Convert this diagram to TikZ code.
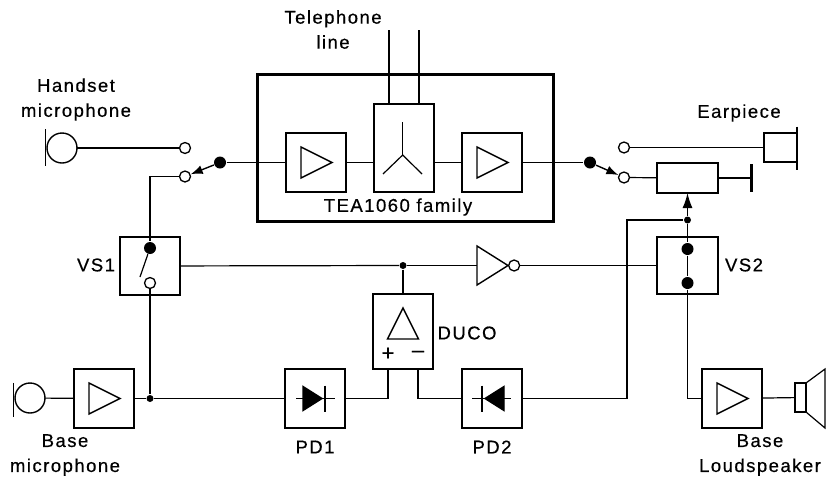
\documentclass[tikz,border=0pt]{standalone}
\usepackage{fontspec}
\setmainfont{Liberation Sans}[LetterSpace=8,FakeBold=0.5]
\usetikzlibrary{shapes,arrows.meta,positioning}

\begin{document}
\begin{tikzpicture}[
    x=1pt, y=-1pt,
    line width=1.2pt,
    blockbox/.style={rectangle, draw, line width=1.4pt, outer sep=0pt, minimum width=60pt, minimum height=59pt},
    amptri/.style={isosceles triangle, isosceles triangle stretches, draw, line width=1.4pt, inner sep=0pt, outer sep=0pt, minimum height=31pt, minimum width=31pt},
    diodetri/.style={amptri, fill=black, minimum height=19pt, minimum width=24pt},
    terminal/.style={circle, draw, line width=1.3pt, fill=white, inner sep=0pt, minimum size=11pt},
    bigdot/.style={circle, fill=black, inner sep=0pt, minimum size=12pt},
    smalldot/.style={circle, fill=black, inner sep=0pt, minimum size=7pt},
    micbody/.style={circle, draw, line width=1.4pt, inner sep=0pt, outer sep=0pt, minimum size=30pt},
    plate/.style={line width=2.6pt},
    swarrow/.style={-{Latex[length=12pt,width=9pt]}, line width=1.4pt},
    wiperarrow/.style={-{Latex[length=15pt,width=10pt]}, line width=1.4pt},
    caption/.style={font=\fontsize{18.5}{25}\selectfont, align=center, inner sep=0pt}
]
\useasboundingbox (0,0) rectangle (826,477);

\node[rectangle, draw, line width=3pt, minimum width=296pt, minimum height=147pt] (TEA) at (405,147.5) {};
\node[blockbox] (ampHS) at (316,162.5) {};
\node[blockbox, minimum height=88pt, anchor=south west] (HYB) at (374,192) {};
\node[blockbox] (ampEP) [right=116pt of ampHS] {};
\node[caption] (TEAtext) at (398,207) {TEA1060 family};

\node[blockbox] (ampBM) at (104,398.5) {};
\node[blockbox] (PD1) [right=151pt of ampBM] {};
\node[blockbox] (PD2) [right=117pt of PD1] {};
\node[blockbox, minimum height=75pt] (DUCO) [above right=0pt and 28pt of PD1.north east] {};
\node[blockbox] (ampBL) at (732,398.5) {};
\node[blockbox, minimum height=58pt] (VS1) at (150,266) {};
\node[blockbox, minimum width=61pt, minimum height=57pt] (VS2) at (687.5,265.5) {};
\node[blockbox, minimum width=61pt, minimum height=30pt] (RV) at (687.5,178) {};
\node[blockbox, minimum width=33pt, minimum height=29pt] (EP) at (780.5,147.5) {};
\node[blockbox, minimum width=11pt, minimum height=29pt] (LSP) at (800.5,397.5) {};

\foreach \n in {ampHS,ampEP,ampBM,ampBL}
    \node[amptri, anchor=lower side] (\n tri) at ([xshift=-15pt]\n.center) {};
\node[amptri, anchor=lower side, shape border rotate=90] (DUCOtri) at ([yshift=-7.5pt]DUCO.center) {};
\node[amptri, anchor=apex, minimum height=31pt, minimum width=39pt] (INV) at (508,265.5) {};
\node[terminal, right=0pt of INV.apex] (INVout) {};

\node[micbody] (HSmic) at (62,148) {};
\node[micbody] (BMmic) at (30,398) {};
\node[terminal] (HSa) at (185,148) {};
\node[terminal] (HSb) at (185,176.5) {};
\node[bigdot] (SWL) at (220,162.5) {};
\node[terminal] (EPa) at (624,147.5) {};
\node[terminal] (EPb) at (624,177.5) {};
\node[bigdot] (SWR) at (590,162.5) {};

\node[bigdot] (VS1a) at (150,248) {};
\node[terminal] (VS1b) at (150,283) {};
\node[bigdot] (VS2a) at (687.5,249) {};
\node[bigdot] (VS2b) at (687.5,283) {};
\node[smalldot] (J1) at (150,398.5) {};
\node[smalldot] (J2) at (403,265.5) {};
\node[smalldot] (J3) at (687.5,220) {};

\coordinate (blade) at (140,277);
\coordinate (TLa) at (389,30);
\coordinate (TLb) at (419,30);
\coordinate (Yhub) at (402.7,155);
\coordinate (Yup) at (402.7,122);
\coordinate (Yleft) at (383,174);
\coordinate (Yright) at (422,174);
\coordinate (RVend) at (751,178);

\draw (HSmic) -- (HSa);
\draw (SWL) -- (ampHS);
\draw (ampHS) -- (ampHS -| HYB.west);
\draw (ampEP.west -| HYB.east) -- (ampEP);
\draw (ampEP) -- (SWR);
\draw[swarrow] (SWL) -- (HSb);
\draw[swarrow] (SWR) -- (EPb);
\draw (HSb) -| (VS1a);
\draw (VS1a) -- (blade);
\draw (VS1b) -- (J1);
\draw (TLa) -- (TLa |- HYB.north);
\draw (TLb) -- (TLb |- HYB.north);
\draw (Yup) -- (Yhub);
\draw (Yleft) -- (Yhub) -- (Yright);
\draw (EPa) -- (EP);
\draw (EPb) -- (RV);
\draw (RV) -- (RVend);
\draw[plate] (EP.north east) ++(0,-6.5) -- ++(0,43);
\draw[plate, line width=3pt] ([yshift=14pt]RVend) -- ([yshift=-14pt]RVend);

\draw (VS1) -- (J2);
\draw (J2) -- (INV.lower side);
\draw (J2) -- (DUCO);
\draw (INVout) -- (VS2);
\draw (VS2a) -- (VS2b);
\draw (VS2b) |- (ampBL);
\draw (J3) -- (VS2a);
\draw[wiperarrow] (J3) -- (RV);
\draw (J3) -| (627,398.5) -- (PD2);

\draw (HSmic.north west) ++(-5.5,-8) -- ++(0,37);
\draw (BMmic.north west) ++(-5.5,-4.5) -- ++(0,34);
\draw (BMmic) -- (ampBM);
\draw (ampBM) -- (J1);
\draw (J1) -- (PD1);
\draw ([xshift=-15pt]DUCO.south) |- (PD1);
\draw ([xshift=15pt]DUCO.south) |- (PD2);
\draw (ampBL) -- (LSP);
\draw (LSP.north east) -- (825,369) -- (825,428) -- (LSP.south east);

\draw ([xshift=-19pt]PD1.center) -- ([xshift=20pt]PD1.center);
\draw ([xshift=-20pt]PD2.center) -- ([xshift=19pt]PD2.center);
\node[diodetri, anchor=lower side] (PD1tri) at ([xshift=-12pt]PD1.center) {};
\node[diodetri, anchor=lower side, shape border rotate=180] (PD2tri) at ([xshift=12pt]PD2.center) {};
\draw[plate] ([xshift=10pt,yshift=13pt]PD1.center) -- ([xshift=10pt,yshift=-13pt]PD1.center);
\draw[plate] ([xshift=-10pt,yshift=13pt]PD2.center) -- ([xshift=-10pt,yshift=-13pt]PD2.center);

\node[caption, font=\fontsize{22}{25}\selectfont] (plus) at ([xshift=-15pt,yshift=-22.5pt]DUCO.center) {+};
\node[caption, font=\fontsize{22}{25}\selectfont] (minus) at ([xshift=15pt,yshift=-22.5pt]DUCO.center) {–};

\node[caption] (TELtext) at (333,29.5) {Telephone\\line};
\node[caption] (HStext) at (76,99.5) {Handset\\microphone};
\node[caption] (EPtext) at (739,113) {Earpiece};
\node[caption] (VS1text) at (96,265) {VS1};
\node[caption] (VS2text) at (744,265) {VS2};
\node[caption] (DUCOtext) at (467,333) {DUCO};
\node[caption] (PD1text) at (315,447) {PD1};
\node[caption] (PD2text) at (492,447) {PD2};
\node[caption] (BMtext) at (65,455) {Base\\microphone};
\node[caption] (BLtext) at (760,455) {Base\\Loudspeaker};
\end{tikzpicture}
\end{document}
